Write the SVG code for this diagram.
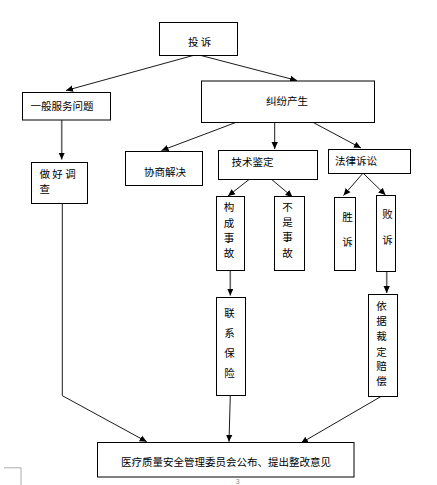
<svg xmlns="http://www.w3.org/2000/svg" width="437" height="485" viewBox="0 0 437 485">
<style>
.box{fill:#fff;stroke:#000;stroke-width:1}
.t{font-family:"Noto Sans CJK SC","Noto Sans CJK JP",sans-serif;font-size:10.5px;fill:#000}
.m{text-anchor:middle}
.c{stroke:#000;stroke-width:0.9;fill:none}
.g{stroke:#666;stroke-width:1.6;fill:none}
</style>
<defs>
<marker id="ah" markerWidth="8" markerHeight="8" refX="7" refY="4" orient="auto" markerUnits="userSpaceOnUse">
<path d="M0,0.8 L7,4 L0,7.2 Z" fill="#000"/>
</marker>
</defs>
<rect width="437" height="485" fill="#fff"/>
<g id="connectors">
<line class="c" x1="193" y1="55.5" x2="66" y2="90.5" marker-end="url(#ah)"/>
<line class="c" x1="201" y1="55.5" x2="297" y2="80.5" marker-end="url(#ah)"/>
<line class="g" x1="61.7" y1="120" x2="61.7" y2="159.5" marker-end="url(#ah)"/>
<line class="c" x1="235.7" y1="122.5" x2="161.5" y2="150.5" marker-end="url(#ah)"/>
<line class="c" x1="274.7" y1="122.5" x2="274.7" y2="149" marker-end="url(#ah)"/>
<line class="c" x1="313.3" y1="122.5" x2="361" y2="148" marker-end="url(#ah)"/>
<line class="c" x1="249" y1="179.5" x2="228" y2="196" marker-end="url(#ah)"/>
<line class="c" x1="271.7" y1="179.5" x2="292.5" y2="197" marker-end="url(#ah)"/>
<line class="c" x1="362.7" y1="173.5" x2="343.5" y2="195.5" marker-end="url(#ah)"/>
<line class="c" x1="363.5" y1="173.5" x2="385.5" y2="195" marker-end="url(#ah)"/>
<line class="g" x1="230.3" y1="270.5" x2="230.3" y2="295.5" marker-end="url(#ah)"/>
<line class="g" x1="386.7" y1="271.5" x2="386.7" y2="293" marker-end="url(#ah)"/>
<polyline class="c" points="62.3,203.5 62.3,395.7 146.7,441.7" marker-end="url(#ah)"/>
<line class="c" x1="230.3" y1="395.5" x2="229" y2="441.7" marker-end="url(#ah)"/>
<line class="c" x1="382.7" y1="395.5" x2="301" y2="443" marker-end="url(#ah)"/>
</g>
<g id="n-tousu">
<rect class="box" x="159.5" y="22.5" width="78" height="33"/>
<text class="t" x="188" y="46">投 诉</text>
</g>
<g id="n-yiban">
<rect class="box" x="22.5" y="92.5" width="88" height="27.5"/>
<text class="t" x="30.5" y="110">一般服务问题</text>
</g>
<g id="n-jiufen">
<rect class="box" x="201.5" y="81" width="173" height="41.5"/>
<text class="t" x="266" y="104.5">纠纷产生</text>
</g>
<g id="n-zuohao">
<rect class="box" x="31.5" y="162.5" width="56" height="41"/>
<text class="t" x="39.5" y="178">做 好 调</text>
<text class="t" x="39.5" y="193">查</text>
</g>
<g id="n-xieshang">
<rect class="box" x="125.5" y="151.5" width="77" height="34"/>
<text class="t" x="144" y="175.5">协商解决</text>
</g>
<g id="n-jishu">
<rect class="box" x="218.5" y="150.5" width="99" height="29"/>
<text class="t" x="231.5" y="166">技术鉴定</text>
</g>
<g id="n-falv">
<rect class="box" x="328.5" y="149.5" width="82" height="24"/>
<text class="t" x="335" y="164.5">法律诉讼</text>
</g>
<g id="n-goucheng">
<rect class="box" x="216.5" y="196.5" width="28" height="74"/>
<text class="t m" x="229" y="210.5">构</text>
<text class="t m" x="229" y="227">成</text>
<text class="t m" x="229" y="242">事</text>
<text class="t m" x="229" y="256.5">故</text>
</g>
<g id="n-bushi">
<rect class="box" x="274.5" y="196.5" width="30" height="74"/>
<text class="t m" x="287.5" y="211">不</text>
<text class="t m" x="287.5" y="225.5">是</text>
<text class="t m" x="287.5" y="241">事</text>
<text class="t m" x="287.5" y="256.5">故</text>
</g>
<g id="n-shengsu">
<rect class="box" x="334.5" y="197.5" width="21" height="73"/>
<text class="t m" x="347.5" y="220.5">胜</text>
<text class="t m" x="347.5" y="246">诉</text>
</g>
<g id="n-baisu">
<rect class="box" x="376.5" y="195.5" width="19" height="76"/>
<text class="t m" x="387.5" y="218">败</text>
<text class="t m" x="387.5" y="244">诉</text>
</g>
<g id="n-lianxi">
<rect class="box" x="216.5" y="297.5" width="29" height="98"/>
<text class="t m" x="229.5" y="316.5">联</text>
<text class="t m" x="229.5" y="337">系</text>
<text class="t m" x="229.5" y="357">保</text>
<text class="t m" x="229.5" y="377">险</text>
</g>
<g id="n-yiju">
<rect class="box" x="368.5" y="294.5" width="29" height="102"/>
<text class="t m" x="381.5" y="310">依</text>
<text class="t m" x="381.5" y="325">据</text>
<text class="t m" x="381.5" y="340">裁</text>
<text class="t m" x="381.5" y="355.5">定</text>
<text class="t m" x="381.5" y="370">赔</text>
<text class="t m" x="381.5" y="385">偿</text>
</g>
<g id="n-bottom">
<rect class="box" x="97.5" y="442.5" width="256.5" height="34.5"/>
<text class="t" x="121" y="466">医疗质量安全管理委员会公布、提出整改意见</text>
</g>
<polyline points="4,467.8 21,467.8 21,485" fill="none" stroke="#999" stroke-width="0.8"/>
<text x="237.7" y="484" font-family="Liberation Sans, sans-serif" font-size="7" fill="#888" text-anchor="middle">3</text>
</svg>
